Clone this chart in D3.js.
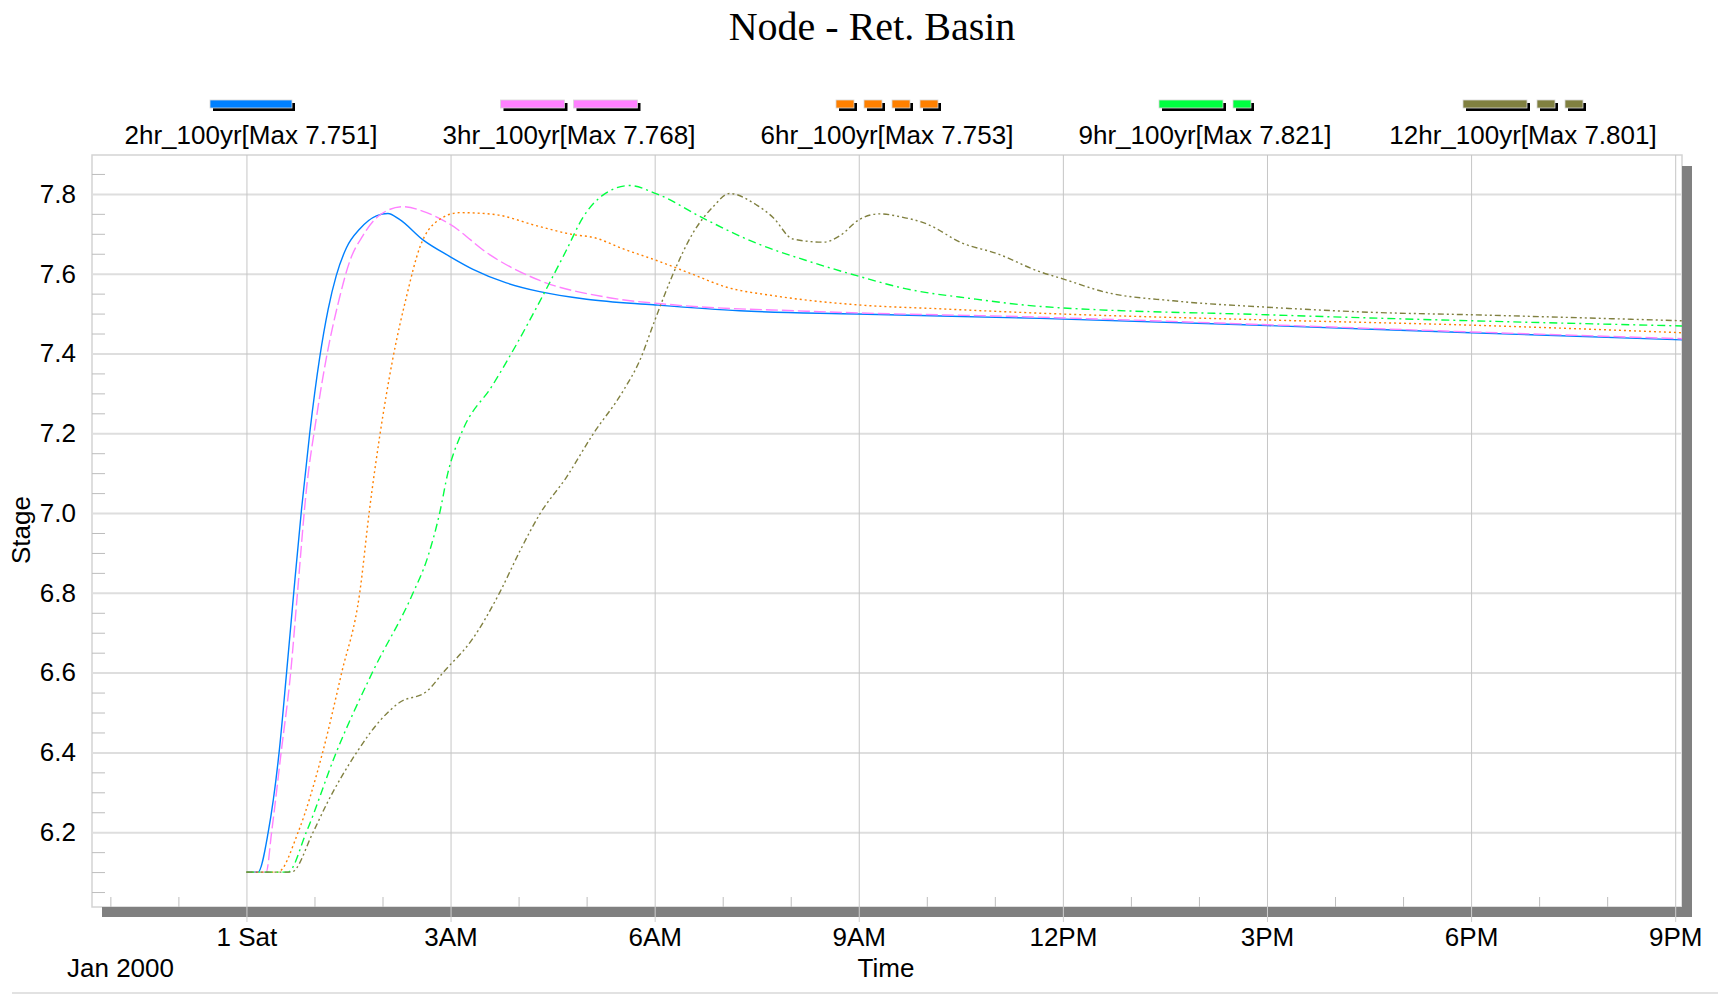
<!DOCTYPE html>
<html>
<head>
<meta charset="utf-8">
<script src="https://d3js.org/d3.v7.min.js"></script>
<style>
  body { margin: 0; background: #fff; }
  .chart-stage text { font-family: "Liberation Sans", Arial, sans-serif; fill: #000; }
  .chart-stage .title { font-family: "Liberation Serif", "Times New Roman", serif; }
  .axis path.domain { display: none; }
  .grid-y line { stroke: #dedede; stroke-width: 2; }
  .grid-x line { stroke: #c6c6c6; stroke-width: 1; }
  .minor line { stroke: #bdbdbd; stroke-width: 1; }
  .serie { fill: none; stroke-width: 1.4; }
</style>
</head>
<body>
<div class="chart-stage"><svg></svg></div>
<script>
// series names and the max shown in the legend
var seriesNames = ['2hr_100yr', '3hr_100yr', '6hr_100yr', '9hr_100yr', '12hr_100yr'];
var seriesMax = [7.751, 7.768, 7.753, 7.821, 7.801];

// hours after 1 Jan 2000 00:00 / stage
var hours2hr = [0, 0.17, 0.32, 0.48, 0.59, 0.695, 0.81, 0.93, 1.077, 1.2, 1.32, 1.47, 1.665, 1.91, 2.08, 2.25, 2.6, 2.99, 3.33, 3.82, 4.31, 5.0, 5.98, 7.25, 8.97, 11.66, 15.0, 18.0, 21.1];
var stage2hr = [6.1, 6.1, 6.2, 6.4, 6.6, 6.8, 7.01, 7.2, 7.39, 7.51, 7.595, 7.665, 7.712, 7.745, 7.751, 7.736, 7.684, 7.643, 7.611, 7.577, 7.555, 7.536, 7.522, 7.507, 7.499, 7.488, 7.47, 7.452, 7.434];

var hours3hr = [0, 0.29, 0.37, 0.51, 0.65, 0.75, 0.88, 1.03, 1.176, 1.37, 1.52, 1.71, 1.96, 2.3, 2.65, 2.99, 3.58, 4.31, 5.29, 6.27, 8.23, 11.66, 15.0, 18.0, 21.1];
var stage3hr = [6.1, 6.1, 6.2, 6.4, 6.6, 6.8, 7.056, 7.241, 7.39, 7.541, 7.632, 7.695, 7.747, 7.768, 7.753, 7.724, 7.647, 7.583, 7.541, 7.522, 7.506, 7.491, 7.472, 7.454, 7.437];

var hours6hr = [0, 0.46, 0.76, 1.12, 1.4, 1.665, 1.81, 1.96, 2.155, 2.35, 2.55, 2.79, 3.135, 3.62, 4.31, 4.8, 5.095, 5.54, 6.03, 6.52, 7.06, 7.74, 8.97, 10.19, 11.66, 15.0, 18.0, 21.1];
var stage6hr = [6.1, 6.1, 6.2, 6.4, 6.6, 6.8, 7.01, 7.194, 7.39, 7.541, 7.667, 7.73, 7.753, 7.749, 7.718, 7.698, 7.691, 7.662, 7.633, 7.601, 7.566, 7.545, 7.522, 7.512, 7.501, 7.484, 7.471, 7.452];

var hours9hr = [0, 0.61, 0.88, 1.32, 1.85, 2.45, 2.65, 2.84, 2.96, 3.16, 3.62, 3.97, 4.31, 4.7, 4.95, 5.24, 5.63, 6.03, 6.76, 7.5, 8.23, 8.97, 9.7, 10.68, 11.66, 15.0, 18.0, 21.1];
var stage9hr = [6.1, 6.1, 6.2, 6.4, 6.6, 6.8, 6.882, 7.0, 7.1, 7.2, 7.321, 7.423, 7.53, 7.658, 7.742, 7.797, 7.821, 7.8, 7.735, 7.676, 7.633, 7.595, 7.562, 7.537, 7.518, 7.497, 7.482, 7.469];

var hours12hr = [0, 0.66, 0.98, 1.18, 1.62, 1.96, 2.25, 2.65, 2.89, 3.33, 3.72, 4.02, 4.31, 4.7, 5.095, 5.54, 5.78, 6.0, 6.27, 6.56, 6.86, 7.1, 7.5, 7.74, 8.03, 8.48, 8.72, 9.02, 9.31, 9.6, 9.995, 10.53, 11.02, 11.66, 12.0, 12.64, 13.62, 15.0, 16.56, 18.0, 21.1];
var stage12hr = [6.1, 6.1, 6.2, 6.271, 6.4, 6.479, 6.525, 6.553, 6.6, 6.686, 6.8, 6.905, 6.997, 7.089, 7.198, 7.307, 7.382, 7.482, 7.599, 7.701, 7.768, 7.801, 7.772, 7.741, 7.687, 7.679, 7.695, 7.737, 7.75, 7.743, 7.725, 7.676, 7.651, 7.605, 7.587, 7.553, 7.532, 7.516, 7.503, 7.497, 7.482];

// ticks
var xTickHours = [0, 3, 6, 9, 12, 15, 18, 21];
var xTickLabels = ['1 Sat', '3AM', '6AM', '9AM', '12PM', '3PM', '6PM', '9PM'];
var yTicks = [6.2, 6.4, 6.6, 6.8, 7.0, 7.2, 7.4, 7.6, 7.8];

// styles for each serie (same order as names)
var colors = ['#0080ff', '#ff80ff', '#ff8000', '#00ff40', '#808040'];
var dashes = [null, '12,4', '2,3', '8,4,2,4', '6,3,2,3,2,3'];
var swatchParts = [[82], [64, 64], [18, 18, 18, 18], [64, 18], [64, 18, 18]];

var W = 1718, H = 995;
var margin = { top: 155, right: 36, bottom: 88, left: 92 };
var width = W - margin.left - margin.right;
var height = H - margin.top - margin.bottom;

function hr(h) {
    return new Date(new Date(2000, 0, 1).getTime() + h * 3600000);
}

var series = [
    { h: hours2hr, v: stage2hr },
    { h: hours3hr, v: stage3hr },
    { h: hours6hr, v: stage6hr },
    { h: hours9hr, v: stage9hr },
    { h: hours12hr, v: stage12hr }
].map(function(s, i) {
    return {
        name: seriesNames[i],
        max: seriesMax[i],
        points: s.h.map(function(h, j) { return { t: hr(h), v: s.v[j] }; })
    };
});

var x = d3.scaleTime().domain([hr(-2.27), hr(21.1)]).range([0, width]);
var y = d3.scaleLinear().domain([6.0125, 7.8975]).range([height, 0]);

var svg = d3.select('.chart-stage svg').attr('width', W).attr('height', H);

// title
svg.append('text')
    .attr('class', 'title')
    .attr('x', 872)
    .attr('y', 40)
    .attr('text-anchor', 'middle')
    .style('font-size', '40px')
    .text('Node - Ret. Basin');

// legend, 5 columns across the plot width
var colW = width / seriesNames.length;
var legend = svg.append('g').attr('transform', 'translate(' + margin.left + ',0)');
series.forEach(function(s, i) {
    var cx = colW * i + colW / 2;
    var parts = swatchParts[i];
    var gap = i === 1 ? 9 : 10;
    var total = d3.sum(parts) + gap * (parts.length - 1);
    var x0 = cx - total / 2;
    parts.forEach(function(p) {
        legend.append('rect')
            .attr('x', x0 + 3).attr('y', 103)
            .attr('width', p).attr('height', 8)
            .attr('fill', '#000');
        legend.append('rect')
            .attr('x', x0).attr('y', 100)
            .attr('width', p).attr('height', 8)
            .attr('fill', colors[i])
            .attr('stroke', '#d8d8d8').attr('stroke-width', 0.8);
        x0 += p + gap;
    });
    legend.append('text')
        .attr('x', cx)
        .attr('y', 144)
        .attr('text-anchor', 'middle')
        .style('font-size', '26px')
        .text(s.name + '[Max ' + s.max + ']');
});

var g = svg.append('g').attr('transform', 'translate(' + margin.left + ',' + margin.top + ')');

g.append('rect')
    .attr('width', width).attr('height', height)
    .attr('fill', '#fff')
    .attr('stroke', '#d4d4d4').attr('stroke-width', 1.5);

g.append('clipPath').attr('id', 'plot-clip')
    .append('rect').attr('width', width).attr('height', height);

// grid
g.append('g').attr('class', 'axis grid-y')
    .call(d3.axisLeft(y).tickValues(yTicks).tickSize(-width).tickFormat(''));

g.append('g').attr('class', 'axis grid-x')
    .call(d3.axisBottom(x).tickValues(xTickHours.map(hr)).tickSize(height).tickFormat(''));

// minor ticks
var yMinor = d3.range(6.05, 7.86, 0.05).filter(function(d) {
    return Math.abs(d * 5 - Math.round(d * 5)) > 0.01;
});
g.append('g').attr('class', 'axis minor')
    .call(d3.axisLeft(y).tickValues(yMinor).tickSize(-13).tickFormat(''));

var xMinor = d3.range(-2, 21).filter(function(h) { return h % 3 !== 0; }).map(hr);
g.append('g').attr('class', 'axis minor')
    .attr('transform', 'translate(0,' + height + ')')
    .call(d3.axisBottom(x).tickValues(xMinor).tickSize(-10).tickFormat(''));

// lines
var line = d3.line()
    .x(function(d) { return x(d.t); })
    .y(function(d) { return y(d.v); })
    .curve(d3.curveMonotoneX);

g.append('g').attr('clip-path', 'url(#plot-clip)')
    .selectAll('.serie')
    .data(series)
    .enter()
    .append('path')
    .attr('class', 'serie')
    .attr('d', function(d) { return line(d.points); })
    .attr('stroke', function(d, i) { return colors[i]; })
    .attr('stroke-dasharray', function(d, i) { return dashes[i]; });

// shadow frame right and bottom
g.append('rect')
    .attr('x', width).attr('y', 11)
    .attr('width', 10).attr('height', height - 1)
    .attr('fill', '#808080');
g.append('rect')
    .attr('x', 10).attr('y', height)
    .attr('width', width).attr('height', 10)
    .attr('fill', '#808080');

// x axis with labels
var axisX = d3.axisBottom(x)
    .tickValues(xTickHours.map(hr))
    .tickSize(15)
    .tickPadding(6)
    .tickFormat(function(d, i) { return xTickLabels[i]; });

g.append('g').attr('class', 'axis axis-x')
    .attr('transform', 'translate(0,' + height + ')')
    .call(axisX);
g.selectAll('.axis-x line').attr('stroke', '#cfcfcf');
g.selectAll('.axis-x text').style('font-size', '26px');

// y axis labels
g.append('g').attr('class', 'axis axis-y')
    .call(d3.axisLeft(y).tickValues(yTicks).tickSize(0).tickPadding(16).tickFormat(d3.format('.1f')));
g.selectAll('.axis-y text').style('font-size', '26px');

// axis titles
svg.append('text')
    .attr('transform', 'translate(30,530) rotate(-90)')
    .attr('text-anchor', 'middle')
    .style('font-size', '26px')
    .text('Stage');

svg.append('text')
    .attr('x', 886).attr('y', 977)
    .attr('text-anchor', 'middle')
    .style('font-size', '26px')
    .text('Time');

svg.append('text')
    .attr('x', 67).attr('y', 977)
    .style('font-size', '26px')
    .text('Jan 2000');

// bottom separator line
svg.append('rect')
    .attr('x', 12).attr('y', 992)
    .attr('width', W - 12).attr('height', 2)
    .attr('fill', '#e2e2e2');
</script>
</body>
</html>
